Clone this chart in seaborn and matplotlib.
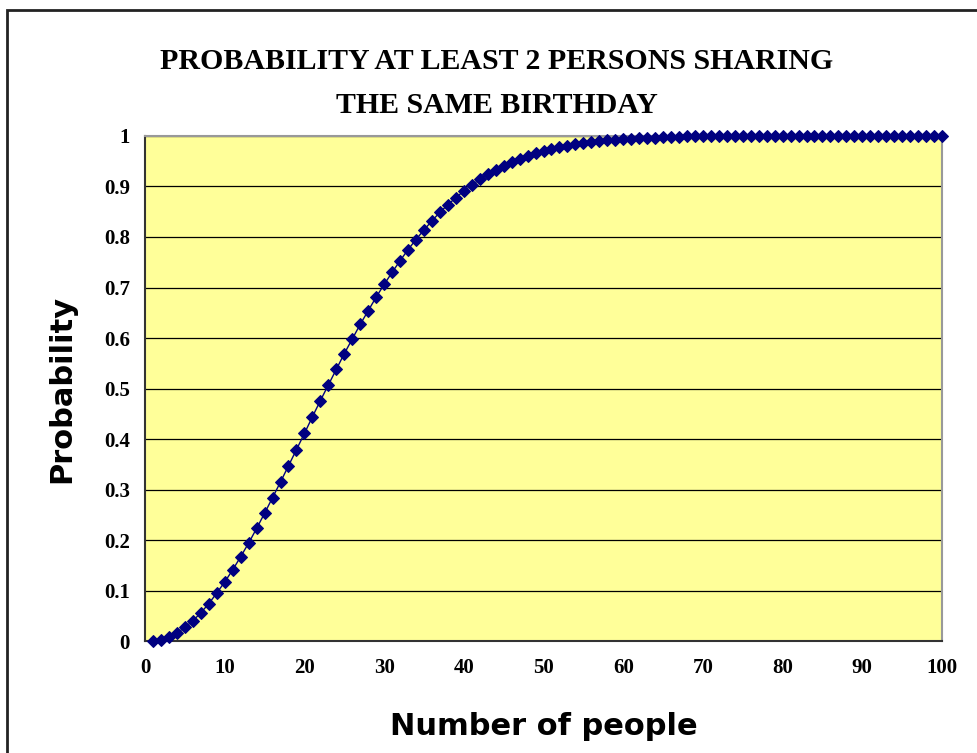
import matplotlib
matplotlib.use("Agg")
import matplotlib.pyplot as plt
import seaborn as sns
import pandas as pd
from matplotlib.patches import Rectangle

# Values (number of people -> probability)
people = list(range(1, 101))
probability = [
    0.000, 0.003, 0.008, 0.016, 0.027, 0.040, 0.056, 0.074, 0.095, 0.117,
    0.141, 0.167, 0.194, 0.223, 0.253, 0.284, 0.315, 0.347, 0.379, 0.411,
    0.444, 0.476, 0.507, 0.538, 0.569, 0.598, 0.627, 0.654, 0.681, 0.706,
    0.730, 0.753, 0.775, 0.795, 0.814, 0.832, 0.849, 0.864, 0.878, 0.891,
    0.903, 0.914, 0.924, 0.933, 0.941, 0.948, 0.955, 0.961, 0.966, 0.970,
    0.974, 0.978, 0.981, 0.984, 0.986, 0.988, 0.990, 0.992, 0.993, 0.994,
    0.995, 0.996, 0.997, 0.997, 0.998, 0.998, 0.998, 0.999, 0.999, 0.999,
    0.999, 0.999, 1.000, 1.000, 1.000, 1.000, 1.000, 1.000, 1.000, 1.000,
    1.000, 1.000, 1.000, 1.000, 1.000, 1.000, 1.000, 1.000, 1.000, 1.000,
    1.000, 1.000, 1.000, 1.000, 1.000, 1.000, 1.000, 1.000, 1.000, 1.000,
]
x_ticks = [0, 10, 20, 30, 40, 50, 60, 70, 80, 90, 100]
y_ticks = [0, 0.1, 0.2, 0.3, 0.4, 0.5, 0.6, 0.7, 0.8, 0.9, 1]
y_tick_labels = ["0", "0.1", "0.2", "0.3", "0.4", "0.5", "0.6", "0.7", "0.8", "0.9", "1"]

df = pd.DataFrame({"people": people, "probability": probability})

sns.set_style("white")
plt.rcParams["font.family"] = ["Liberation Serif", "DejaVu Serif"]
plt.rcParams["text.color"] = "black"
plt.rcParams["axes.labelcolor"] = "black"
plt.rcParams["xtick.color"] = "black"
plt.rcParams["ytick.color"] = "black"

fig = plt.figure(figsize=(9.78, 7.53), dpi=100)
ax = fig.add_axes([0.1483, 0.1487, 0.8149, 0.6707])
ax.set_facecolor("#FFFF99")

# outer frame of the chart area
fig.patches.append(Rectangle((7 / 978, -0.1), 1.1, 1 - 10 / 753 + 0.1, transform=fig.transFigure,
                             fill=False, edgecolor="#222222", linewidth=2))

for y in y_ticks[1:]:
    ax.axhline(y, color="black", linewidth=0.9, zorder=1)

sns.lineplot(data=df, x="people", y="probability", ax=ax, color="#000080",
             marker="D", markersize=6, markeredgecolor="#000080", linewidth=1,
             clip_on=False, zorder=3)

ax.set_xlim(0, 100)
ax.set_ylim(0, 1)
ax.set_xticks(x_ticks)
ax.set_xticklabels([str(v) for v in x_ticks], fontsize=15, fontweight="bold")
ax.set_yticks(y_ticks)
ax.set_yticklabels(y_tick_labels, fontsize=15, fontweight="bold")
ax.tick_params(axis="both", direction="in", length=5, width=1, color="black")
ax.tick_params(axis="x", pad=12)
ax.tick_params(axis="y", pad=11)

for side in ["left", "bottom"]:
    ax.spines[side].set_color("#333333")
    ax.spines[side].set_linewidth(1.5)
for side in ["top", "right"]:
    ax.spines[side].set_color("#999999")
    ax.spines[side].set_linewidth(1.5)

ax.set_xlabel("Number of people", fontsize=22, fontweight="bold",
              family=["DejaVu Sans"], labelpad=25)
ax.set_ylabel("Probability", fontsize=22, fontweight="bold",
              family=["DejaVu Sans"], labelpad=20)

fig.text(0.508, 0.918, "PROBABILITY AT LEAST 2 PERSONS SHARING", ha="center", va="center",
         fontsize=21.5, fontweight="bold", family=["Liberation Serif"])
fig.text(0.508, 0.860, "THE SAME BIRTHDAY", ha="center", va="center",
         fontsize=21.5, fontweight="bold", family=["Liberation Serif"])

fig.savefig("out.png", dpi=100)
